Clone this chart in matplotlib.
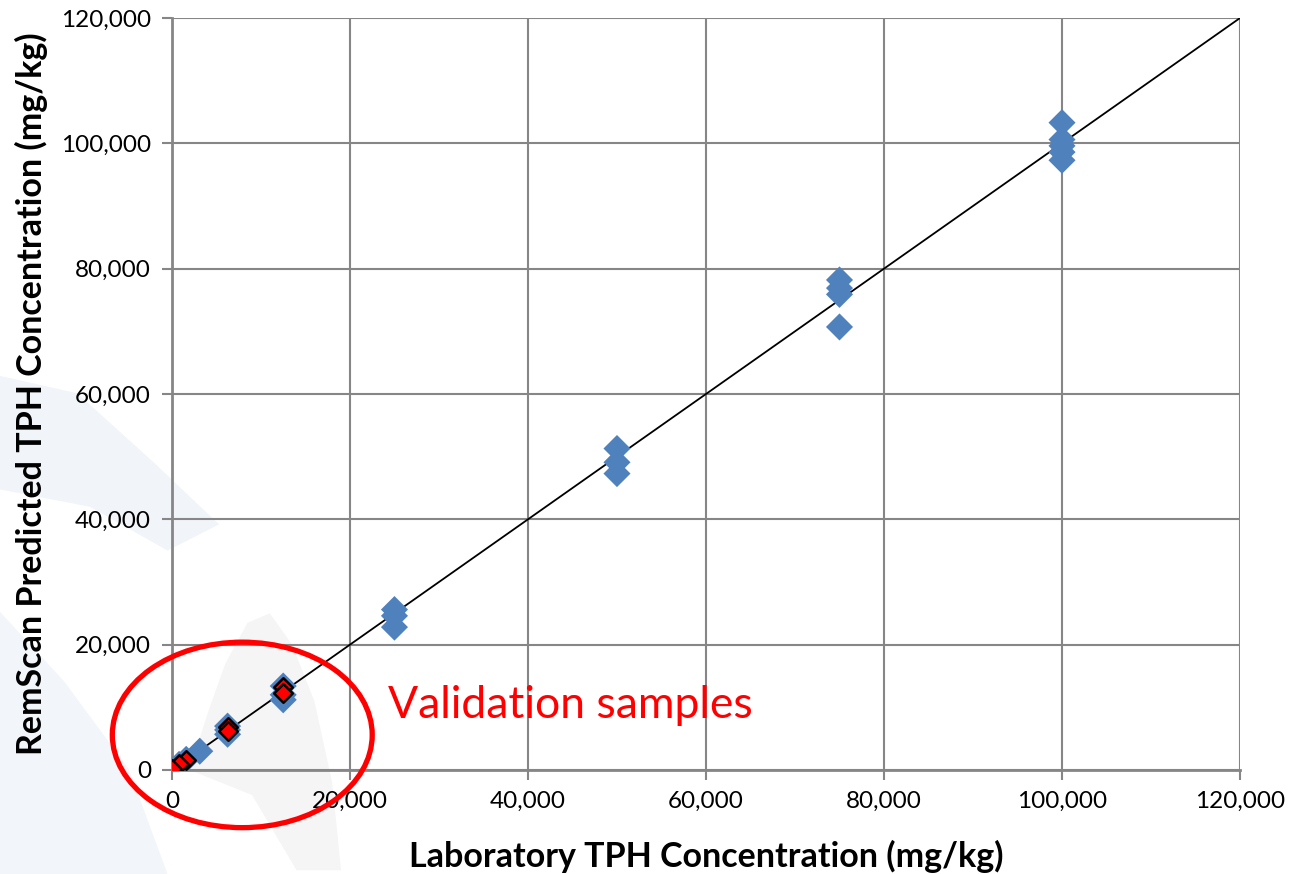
import matplotlib.pyplot as plt
import numpy as np
from matplotlib.patches import Ellipse, Polygon
from matplotlib.ticker import FuncFormatter

# calibration samples (blue)
lab_cal = [100000, 100000, 100000, 100000, 100000,
           75000, 75000, 75000, 75000,
           50000, 50000, 50000,
           25000, 25000, 25000,
           12500, 12500, 12500,
           6250, 6250, 6250,
           3125, 1600, 800, 0]
pred_cal = [103300, 100600, 99600, 98600, 97300,
            78200, 76900, 75900, 70700,
            51300, 49100, 47300,
            25600, 24600, 22800,
            13400, 12000, 11200,
            7000, 6400, 5700,
            3000, 1700, 900, 0]

# validation samples (red)
lab_val = [12500, 12500, 6250, 6250, 1600, 800, 0]
pred_val = [13200, 12300, 6800, 6300, 1600, 1000, 200]

plt.rcParams['font.family'] = ['Lato', 'DejaVu Sans']

fig = plt.figure(figsize=(12.89, 8.74), dpi=100)

# faint watermark swoosh behind the chart
fig.patches.append(Polygon([(0, 0.57), (0.06, 0.55), (0.12, 0.47), (0.17, 0.40), (0.13, 0.37),
                            (0.07, 0.42), (0.0, 0.44)], closed=True, transform=fig.transFigure,
                           facecolor='#f1f5fa', edgecolor='none', zorder=-5))
fig.patches.append(Polygon([(0, 0.30), (0.05, 0.22), (0.10, 0.12), (0.13, 0.0), (0.0, 0.0)],
                           closed=True, transform=fig.transFigure,
                           facecolor='#f2f6fa', edgecolor='none', zorder=-5))

ax = fig.add_axes([0.1334, 0.119, 0.8286, 0.8604])
ax.set_facecolor('none')

ax.add_patch(Polygon([(2000, 0), (4000, 9000), (6000, 17000), (8500, 23500), (11000, 25000),
                      (13500, 20000), (16000, 11000), (18000, -2000), (19000, -16000),
                      (14000, -16000), (9000, -4000)],
                     closed=True, facecolor='#f5f5f5', edgecolor='none', zorder=0, clip_on=False))

ax.plot([0, 120000], [0, 120000], color='black', lw=1.3, zorder=2)
ax.scatter(lab_cal, pred_cal, marker='D', s=190, color='#4f81bd', edgecolors='none', zorder=3)
ax.scatter(lab_val, pred_val, marker='D', s=90, color='red', edgecolors='black', linewidths=1.8, zorder=4)

ax.add_patch(Ellipse((7900, 5600), 29200, 29600, fill=False, edgecolor='red', lw=3.8,
                     clip_on=False, zorder=5))
ax.text(24300, 10300, 'Validation samples', color='red', fontsize=32, va='center', ha='left', zorder=5)

ax.set_xlim(0, 120000)
ax.set_ylim(0, 120000)
ticks = np.arange(0, 120001, 20000)
ax.set_xticks(ticks)
ax.set_yticks(ticks)
fmt = FuncFormatter(lambda v, p: f'{int(v):,}')
ax.xaxis.set_major_formatter(fmt)
ax.yaxis.set_major_formatter(fmt)
ax.tick_params(labelsize=17.5, length=7, width=1.5, color='#868686', pad=8)
ax.grid(True, color='#868686', lw=1.5, zorder=1)
ax.set_axisbelow(True)
for s in ['left', 'bottom']:
    ax.spines[s].set_color('#868686')
    ax.spines[s].set_linewidth(2)
for s in ['top', 'right']:
    ax.spines[s].set_visible(False)

ax.set_xlabel('Laboratory TPH Concentration (mg/kg)', fontsize=24.5, fontweight='bold', labelpad=20)
ax.set_ylabel('RemScan Predicted TPH Concentration (mg/kg)', fontsize=24.5, fontweight='bold', labelpad=9)

fig.savefig('out.png', dpi=100)
